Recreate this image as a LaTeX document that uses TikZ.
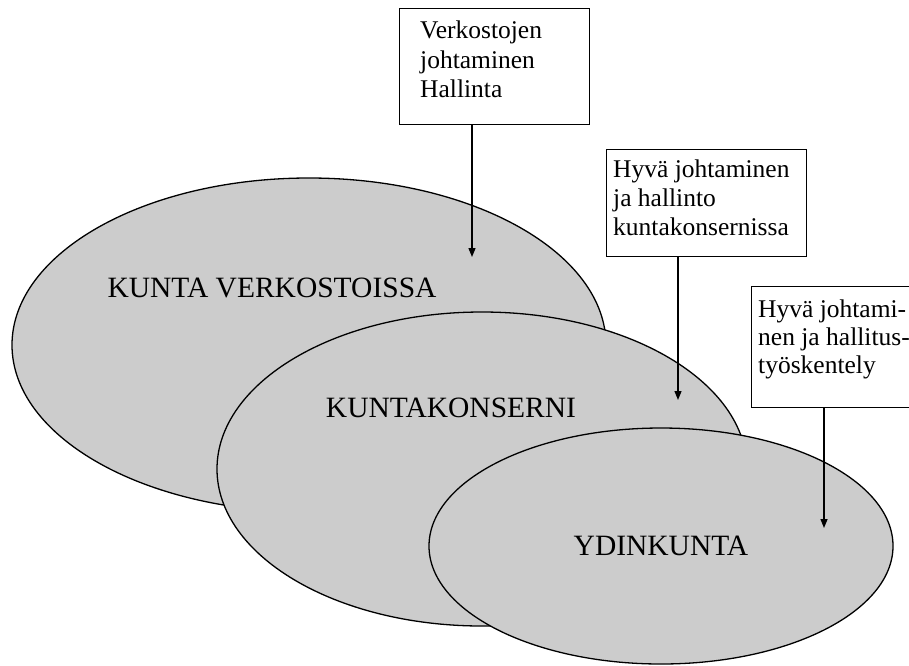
\documentclass[tikz,border=0pt]{standalone}
\usepackage{fontspec}
\setmainfont{Liberation Serif}
\usetikzlibrary{shapes.geometric,arrows.meta}
\definecolor{zonefill}{HTML}{CCCCCC}
\tikzset{
  zone/.style={ellipse, draw=black, line width=1.3pt, fill=zonefill, inner sep=0pt},
  zonelabel/.style={anchor=base, inner sep=0pt, font=\fontsize{29.5}{35}\selectfont},
  notebox/.style={draw=black, line width=1.4pt, fill=white, anchor=north west, inner sep=0pt},
  noteline/.style={anchor=base west, inner sep=0pt, font=\fontsize{25.5}{29}\selectfont},
  pointer/.style={line width=1.3pt, -{Triangle[length=9pt,width=7pt]}}
}
\begin{document}
\begin{tikzpicture}[x=1pt, y=-1pt]
\useasboundingbox (0,0) rectangle (909,665);
\clip (0,0) rectangle (909,665);

% nested zones, outermost first
\node[zone, minimum width=594pt, minimum height=334pt] (e1) at (309,345) {};
\node[zone, minimum width=530pt, minimum height=314pt] (e2) at (482,469) {};
\node[zone, minimum width=464pt, minimum height=236pt] (e3) at (661,546) {};

\node[zonelabel] (l1) at (272,297) {KUNTA VERKOSTOISSA};
\node[zonelabel] (l2) at (451,417) {KUNTAKONSERNI};
\node[zonelabel] (l3) at (661,555) {YDINKUNTA};

% note boxes
\node[notebox, minimum width=190pt, minimum height=116pt] (b1) at (399,8) {};
\node[noteline] (b1a) at (420,38) {Verkostojen};
\node[noteline] (b1b) at (420,68) {johtaminen};
\node[noteline] (b1c) at (420,97) {Hallinta};

\node[notebox, minimum width=200pt, minimum height=107pt] (b2) at (606,149) {};
\node[noteline] (b2a) at (613,177) {Hyvä johtaminen};
\node[noteline] (b2b) at (613,206) {ja hallinto};
\node[noteline] (b2c) at (613,235) {kuntakonsernissa};

\node[notebox, minimum width=170pt, minimum height=121pt] (b3) at (751,286) {};
\node[noteline] (b3a) at (758,317) {Hyvä johtami-};
\node[noteline] (b3b) at (758,345) {nen ja hallitus-};
\node[noteline] (b3c) at (758,373) {työskentely};

% pointers into the zones
\coordinate (t1) at (472,257);
\coordinate (t2) at (678,400);
\coordinate (t3) at (824,528);
\draw[pointer] (b1.south -| t1) -- (t1);
\draw[pointer] (b2.south -| t2) -- (t2);
\draw[pointer] (b3.south -| t3) -- (t3);
\end{tikzpicture}
\end{document}
